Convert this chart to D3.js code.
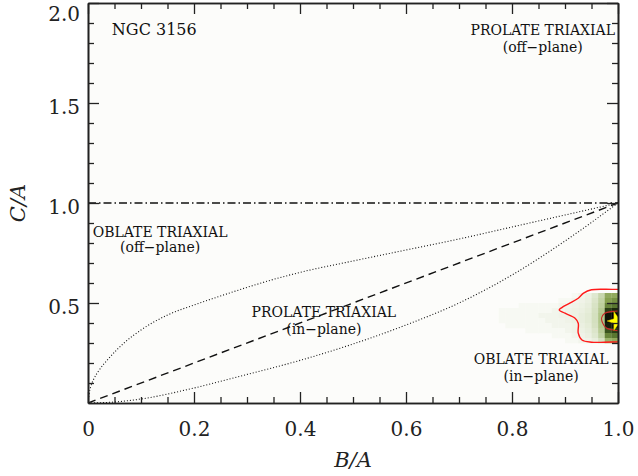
<!DOCTYPE html>
<html><head><meta charset="utf-8">
<script src="https://cdn.jsdelivr.net/npm/d3@7"></script>
<style>html,body{margin:0;padding:0;background:#fff;} svg{display:block}</style>
</head><body>
<script>
// ---------- data ----------
const xTicksMajor = [0, 0.2, 0.4, 0.6, 0.8, 1.0];
const xTickLabels = ["0", "0.2", "0.4", "0.6", "0.8", "1.0"];
const xTicksMinor = [0.05,0.1,0.15,0.25,0.3,0.35,0.45,0.5,0.55,0.65,0.7,0.75,0.85,0.9,0.95];
const yTicksMajor = [0.5, 1.0, 1.5, 2.0];
const yTickLabels = ["0.5", "1.0", "1.5", "2.0"];
const yTicksMinor = [0.1,0.2,0.3,0.4,0.6,0.7,0.8,0.9,1.1,1.2,1.3,1.4,1.6,1.7,1.8,1.9];

// upper dotted boundary (B/A, C/A)
const upperCurve = [[0,0],[0.002,0.045],[0.005,0.08],[0.01,0.115],[0.02,0.16],[0.04,0.225],[0.07,0.305],
  [0.1,0.365],[0.15,0.44],[0.2,0.49],[0.25,0.535],[0.3,0.578],[0.35,0.618],[0.4,0.653],[0.5,0.71],
  [0.6,0.765],[0.7,0.82],[0.8,0.88],[0.9,0.94],[1,1]];
// lower dotted boundary
const lowerCurve = [[0,0],[0.05,0.005],[0.1,0.02],[0.2,0.075],[0.3,0.143],[0.4,0.213],[0.5,0.295],
  [0.6,0.39],[0.7,0.50],[0.8,0.64],[0.9,0.81],[1,1]];
// dashed diagonal
const diagLine = [[0,0],[1,1]];
// dash-dot horizontal at C/A = 1
const flatLine = [[0,1],[1,1]];

// density grid (cell left edges in B/A, bottom edges in C/A)
const densB = [0.775,0.7875,0.8,0.8125,0.825,0.8375,0.85,0.8625,0.875,0.8875,0.9,0.9125,0.925,0.9375,0.95,0.9625,0.975,0.9875];
const densC = [0.525,0.50,0.475,0.45,0.425,0.40,0.375,0.35,0.325,0.30];
const densVals = [
 [0,0,0,0,0,0,0,0,0,0,0,0.01,0.02,0.04,0.10,0.22,0.50,0.50],
 [0,0,0,0,0,0,0,0,0,0.01,0.01,0.02,0.03,0.05,0.12,0.25,0.55,0.60],
 [0,0,0,0.01,0.01,0.01,0.01,0.01,0.01,0.02,0.02,0.03,0.04,0.06,0.14,0.28,0.65,0.70],
 [0.01,0.01,0.01,0.01,0.01,0.01,0.01,0.01,0.02,0.02,0.03,0.04,0.05,0.07,0.15,0.32,0.85,0.90],
 [0.01,0.01,0.01,0.01,0.01,0.01,0.02,0.02,0.02,0.03,0.03,0.04,0.06,0.08,0.16,0.35,0.95,1.00],
 [0.01,0.01,0.01,0.01,0.01,0.01,0.01,0.02,0.02,0.02,0.03,0.04,0.06,0.08,0.16,0.35,0.95,1.00],
 [0,0.01,0.01,0.01,0.01,0.01,0.01,0.01,0.02,0.02,0.02,0.03,0.05,0.07,0.15,0.33,0.92,0.95],
 [0,0,0,0,0.01,0.01,0.01,0.01,0.01,0.01,0.02,0.03,0.04,0.06,0.12,0.30,0.80,0.85],
 [0,0,0,0,0,0,0,0,0.01,0.01,0.01,0.02,0.03,0.05,0.10,0.25,0.65,0.70],
 [0,0,0,0,0,0,0,0,0,0,0.01,0.01,0.02,0.03,0.06,0.15,0.45,0.50]
];
const densStepB = 0.0125, densStepC = 0.025;

// contours
const outerContour = [[1.03,0.568],[0.99,0.568],[0.95,0.566],[0.935,0.549],[0.925,0.524],[0.909,0.499],[0.894,0.477],
  [0.889,0.465],[0.900,0.449],[0.919,0.424],[0.925,0.399],[0.925,0.349],[0.932,0.315],[0.950,0.304],[0.988,0.305],[1.03,0.307]];
const innerContour = [[1.03,0.462],[0.99,0.458],[0.975,0.449],[0.969,0.425],[0.971,0.40],[0.978,0.375],[0.993,0.364],[1.03,0.36]];

// best-fit point (star)
const starPoint = [0.998, 0.41];

// annotations
const labels = [
  {text:"NGC 3156", b:0.045, c:1.84, anchor:"start", size:16},
  {text:"PROLATE TRIAXIAL", b:0.858, c:1.84, anchor:"middle", size:14},
  {text:"(off\u2212plane)", b:0.858, c:1.757, anchor:"middle", size:14},
  {text:"OBLATE TRIAXIAL", b:0.136, c:0.83, anchor:"middle", size:14},
  {text:"(off\u2212plane)", b:0.136, c:0.753, anchor:"middle", size:14},
  {text:"PROLATE TRIAXIAL", b:0.445, c:0.43, anchor:"middle", size:14},
  {text:"(in\u2212plane)", b:0.445, c:0.347, anchor:"middle", size:14},
  {text:"OBLATE TRIAXIAL", b:0.855, c:0.195, anchor:"middle", size:14},
  {text:"(in\u2212plane)", b:0.855, c:0.112, anchor:"middle", size:14}
];

// ---------- drawing ----------
const W = 638, H = 476;
const x = d3.scaleLinear().domain([0, 1]).range([88, 618]);
const y = d3.scaleLinear().domain([0, 2]).range([403, 3]);
const serif = "'DejaVu Serif', serif";
const ink = "#222";

const svg = d3.select("body").append("svg").attr("width", W).attr("height", H);
svg.append("rect").attr("width", W).attr("height", H).attr("fill", "#fff");

svg.append("defs").append("clipPath").attr("id", "plotclip")
  .append("rect").attr("x", x(0)).attr("y", y(2)).attr("width", x(1) - x(0)).attr("height", y(0) - y(2));

svg.append("rect").attr("x", x(0)).attr("y", y(2)).attr("width", x(1) - x(0)).attr("height", y(0) - y(2))
  .attr("fill", "#fcfcfa");

const plot = svg.append("g").attr("clip-path", "url(#plotclip)");

const color = d3.scaleLinear()
  .domain([0, 0.02, 0.08, 0.2, 0.35, 0.55, 0.75, 0.9, 1])
  .range(["#fcfcfa", "#f2f5ec", "#e3ebd5", "#cddab4", "#b0c588", "#86a04e", "#4a6826", "#1a280c", "#000000"]);

const cells = [];
densVals.forEach((row, i) => row.forEach((v, j) => { if (v > 0) cells.push({b: densB[j], c: densC[i], v}); }));
plot.append("g").selectAll("rect").data(cells).join("rect")
  .attr("x", d => x(d.b)).attr("y", d => y(d.c + densStepC))
  .attr("width", d => x(d.b + densStepB) - x(d.b) + 0.3)
  .attr("height", d => y(d.c) - y(d.c + densStepC) + 0.3)
  .attr("fill", d => color(d.v));

const line = d3.line().x(d => x(d[0])).y(d => y(d[1]));
const smooth = d3.line().x(d => x(d[0])).y(d => y(d[1])).curve(d3.curveCatmullRom.alpha(0.5));
const mono = d3.line().x(d => x(d[0])).y(d => y(d[1])).curve(d3.curveMonotoneX);

plot.append("path").datum(outerContour).attr("d", smooth)
  .attr("fill", "none").attr("stroke", "#ff1a1a").attr("stroke-width", 1.4);
plot.append("path").datum(innerContour).attr("d", smooth)
  .attr("fill", "none").attr("stroke", "#c82828").attr("stroke-width", 1.1);

plot.append("path").datum(upperCurve).attr("d", mono)
  .attr("fill", "none").attr("stroke", "#111").attr("stroke-width", 1.1).attr("stroke-dasharray", "1,2");
plot.append("path").datum(lowerCurve).attr("d", mono)
  .attr("fill", "none").attr("stroke", "#111").attr("stroke-width", 1.1).attr("stroke-dasharray", "1,2");
plot.append("path").datum(diagLine).attr("d", line)
  .attr("fill", "none").attr("stroke", "#111").attr("stroke-width", 1.4).attr("stroke-dasharray", "8,5");
plot.append("path").datum(flatLine).attr("d", line)
  .attr("fill", "none").attr("stroke", "#111").attr("stroke-width", 1.3).attr("stroke-dasharray", "8,3,1.5,3");

plot.append("path")
  .attr("d", d3.symbol(d3.symbolStar, 110)())
  .attr("transform", `translate(${x(starPoint[0])},${y(starPoint[1])}) rotate(-90)`)
  .attr("fill", "#ffff00").attr("stroke", "#d8b000").attr("stroke-width", 0.5);

svg.append("g").selectAll("text").data(labels).join("text")
  .attr("x", d => x(d.b)).attr("y", d => y(d.c))
  .attr("text-anchor", d => d.anchor)
  .attr("font-family", serif).attr("font-size", d => d.size)
  .attr("fill", "#111")
  .text(d => d.text);

// ---------- axes ----------
function styleAxis(g) {
  g.select(".domain").attr("stroke", ink).attr("stroke-width", 1.6);
  g.selectAll(".tick line").attr("stroke", ink).attr("stroke-width", 1.3);
  g.selectAll(".tick text").attr("font-family", serif).attr("font-size", 20).attr("fill", "#222");
}

// bottom
svg.append("g").attr("transform", `translate(0,${y(0)})`)
  .call(d3.axisBottom(x).tickValues(xTicksMinor).tickSize(-6).tickSizeOuter(0).tickFormat(""))
  .call(styleAxis);
svg.append("g").attr("transform", `translate(0,${y(0)})`)
  .call(d3.axisBottom(x).tickValues(xTicksMajor).tickSize(-11).tickSizeOuter(0).tickPadding(19)
    .tickFormat((d, i) => xTickLabels[i]))
  .call(styleAxis);
// top
svg.append("g").attr("transform", `translate(0,${y(2)})`)
  .call(d3.axisTop(x).tickValues(xTicksMinor).tickSize(-6).tickSizeOuter(0).tickFormat(""))
  .call(styleAxis);
svg.append("g").attr("transform", `translate(0,${y(2)})`)
  .call(d3.axisTop(x).tickValues(xTicksMajor).tickSize(-11).tickSizeOuter(0).tickFormat(""))
  .call(styleAxis);
// left
svg.append("g").attr("transform", `translate(${x(0)},0)`)
  .call(d3.axisLeft(y).tickValues(yTicksMinor).tickSize(-6).tickSizeOuter(0).tickFormat(""))
  .call(styleAxis);
const leftMajor = svg.append("g").attr("transform", `translate(${x(0)},0)`)
  .call(d3.axisLeft(y).tickValues(yTicksMajor).tickSize(-11).tickSizeOuter(0).tickPadding(8)
    .tickFormat((d, i) => yTickLabels[i]))
  .call(styleAxis);
leftMajor.selectAll(".tick text").attr("dy", d => d === 2 ? "0.85em" : "0.5em");
// right
svg.append("g").attr("transform", `translate(${x(1)},0)`)
  .call(d3.axisRight(y).tickValues(yTicksMinor).tickSize(-6).tickSizeOuter(0).tickFormat(""))
  .call(styleAxis);
svg.append("g").attr("transform", `translate(${x(1)},0)`)
  .call(d3.axisRight(y).tickValues(yTicksMajor).tickSize(-11).tickSizeOuter(0).tickFormat(""))
  .call(styleAxis);

// axis titles
svg.append("text")
  .attr("x", (x(0) + x(1)) / 2).attr("y", 467)
  .attr("text-anchor", "middle").attr("font-family", serif).attr("font-style", "italic")
  .attr("font-size", 21).attr("fill", "#222").text("B/A");
svg.append("text")
  .attr("transform", `translate(25,${(y(0) + y(2)) / 2}) rotate(-90)`)
  .attr("text-anchor", "middle").attr("font-family", serif).attr("font-style", "italic")
  .attr("font-size", 21).attr("fill", "#222").text("C/A");
</script>
</body></html>
